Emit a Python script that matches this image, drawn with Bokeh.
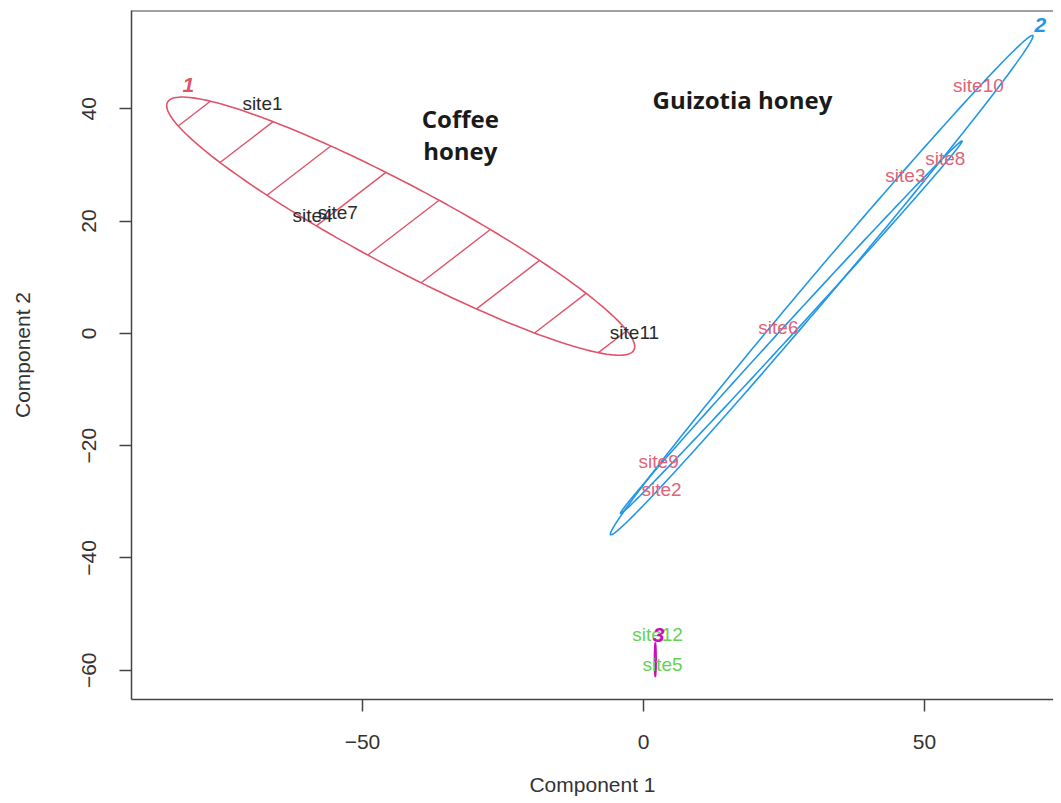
import numpy as np
from bokeh.plotting import figure
from bokeh.models import ColumnDataSource, Range1d, FixedTicker, Span
from bokeh.embed import file_html
from bokeh.resources import INLINE
from bokeh.core.properties import value

# ---- data ----
site_names = ["site1", "site2", "site3", "site4", "site5", "site6",
              "site7", "site8", "site9", "site10", "site11", "site12"]
site_x = [-67.8, 3.2, 46.6, -58.9, 3.4, 24.0, -54.4, 53.7, 2.7, 59.6, -1.6, 2.5]
site_y = [41.0, -27.8, 28.2, 21.0, -59.0, 1.1, 21.6, 31.2, -22.8, 44.2, 0.2, -53.7]
site_cluster = [1, 2, 2, 1, 3, 2, 1, 2, 2, 2, 1, 3]

cluster_ids = ["1", "2", "3"]
ell_cx = [-43.2, 31.7, 2.1]
ell_cy = [19.1, 8.6, -58.1]
ell_a = [47.0, 58.2, 3.0]
ell_b = [7.3, 2.2, 0.15]
ell_angle = [-28.0, 49.8, 90.0]
# second (inner) outline traced for cluster 2
inner_cx, inner_cy, inner_a, inner_b, inner_angle = 26.3, 1.1, 45.0, 1.0, 47.5

cluster_label_x = [-81.0, 70.6, 2.7]
cluster_label_y = [44.2, 54.9, -53.7]

group_names = ["Coffee", "honey", "Guizotia honey"]
group_x = [-32.6, -32.6, 17.6]
group_y = [38.2, 32.5, 41.7]

x_ticks = [-50, 0, 50]
y_ticks = [-60, -40, -20, 0, 20, 40]

# ---- styles ----
ell_colors = ["#DF536B", "#2297E6", "#CD0BBC"]
txt_colors = {1: "#2a2a2a", 2: "#E0637A", 3: "#66D155"}
hatch_angle, hatch_spacing, hatch_anchor = 37.6, 9.7, (-36.65, 23.5)

X_LO, X_HI, Y_LO, Y_HI = -91.1, 72.95, -65.2, 57.5


def ellipse(cx, cy, a, b, ang, n=200):
    t = np.linspace(0, 2 * np.pi, n)
    ph = np.radians(ang)
    x = cx + a * np.cos(t) * np.cos(ph) - b * np.sin(t) * np.sin(ph)
    y = cy + a * np.cos(t) * np.sin(ph) + b * np.sin(t) * np.cos(ph)
    return x, y


def hatch(cx, cy, a, b, ang, h_ang, spacing, anchor):
    ph = np.radians(ang)
    th = np.radians(h_ang)
    d = np.array([np.cos(th), np.sin(th)])
    nrm = np.array([-np.sin(th), np.cos(th)])
    R = np.array([[np.cos(ph), np.sin(ph)], [-np.sin(ph), np.cos(ph)]])
    xs, ys = [], []
    for k in range(-30, 31):
        p0 = np.array(anchor) + k * spacing * nrm
        q0 = R @ (p0 - np.array([cx, cy]))
        qd = R @ d
        A = (qd[0] / a) ** 2 + (qd[1] / b) ** 2
        B = 2 * (q0[0] * qd[0] / a ** 2 + q0[1] * qd[1] / b ** 2)
        C = (q0[0] / a) ** 2 + (q0[1] / b) ** 2 - 1
        disc = B * B - 4 * A * C
        if disc <= 0:
            continue
        t1 = (-B - np.sqrt(disc)) / (2 * A)
        t2 = (-B + np.sqrt(disc)) / (2 * A)
        pa, pb = p0 + t1 * d, p0 + t2 * d
        xs.append([pa[0], pb[0]])
        ys.append([pa[1], pb[1]])
    return xs, ys


p = figure(width=1053, height=800, output_backend="svg", toolbar_location=None,
           x_range=Range1d(X_LO, X_HI), y_range=Range1d(Y_LO, Y_HI),
           min_border_left=131, min_border_top=10, min_border_right=0,
           min_border_bottom=101)
p.grid.visible = False
p.background_fill_color = "white"
p.border_fill_color = "white"
p.outline_line_color = None
p.add_layout(Span(location=Y_HI, dimension="width", line_color="#444444",
                  line_width=2))

# ellipses
for i in range(3):
    ex, ey = ellipse(ell_cx[i], ell_cy[i], ell_a[i], ell_b[i], ell_angle[i])
    p.line(ex, ey, line_color=ell_colors[i], line_width=1.6)
ix, iy = ellipse(inner_cx, inner_cy, inner_a, inner_b, inner_angle)
p.line(ix, iy, line_color=ell_colors[1], line_width=1.6)

hx, hy = hatch(ell_cx[0], ell_cy[0], ell_a[0], ell_b[0], ell_angle[0],
               hatch_angle, hatch_spacing, hatch_anchor)
p.multi_line(hx, hy, line_color=ell_colors[0], line_width=1.4)

# site labels
src = ColumnDataSource(dict(x=site_x, y=site_y, t=site_names,
                            c=[txt_colors[k] for k in site_cluster]))
p.text(x="x", y="y", text="t", source=src, text_color="c",
       text_align="center", text_baseline="middle",
       text_font=value("Liberation Sans"), text_font_size="19px")

# cluster numbers
p.text(x=cluster_label_x, y=cluster_label_y, text=cluster_ids,
       text_color=ell_colors, text_align="center", text_baseline="middle",
       text_font=value("Liberation Sans"), text_font_size="21px",
       text_font_style="bold italic")

# group annotations
p.text(x=group_x, y=group_y, text=group_names, text_color="#1a1a1a",
       text_align="center", text_baseline="middle",
       text_font=value("Open Sans"), text_font_size="24px", text_font_style="bold")

# axes
for ax in (p.xaxis[0], p.yaxis[0]):
    ax.axis_line_color = "#444444"
    ax.axis_line_width = 1.5
    ax.major_tick_line_color = "#444444"
    ax.major_tick_line_width = 1.5
    ax.major_tick_out = 12
    ax.major_tick_in = 0
    ax.minor_tick_line_color = None
    ax.major_label_text_font = "Liberation Sans"
    ax.major_label_text_font_size = "21px"
    ax.major_label_text_color = "#333333"
    ax.axis_label_text_font = "Liberation Sans"
    ax.axis_label_text_font_size = "21px"
    ax.axis_label_text_font_style = "normal"
    ax.axis_label_text_color = "#333333"

p.xaxis.ticker = FixedTicker(ticks=x_ticks)
p.yaxis.ticker = FixedTicker(ticks=y_ticks)
p.xaxis.axis_label = "Component 1"
p.yaxis.axis_label = "Component 2"
p.yaxis.major_label_orientation = "vertical"
p.xaxis.major_label_standoff = 23
p.yaxis.major_label_standoff = 23
p.xaxis.axis_label_standoff = 21
p.yaxis.axis_label_standoff = 46

open("out.html", "w").write(file_html(p, INLINE))
